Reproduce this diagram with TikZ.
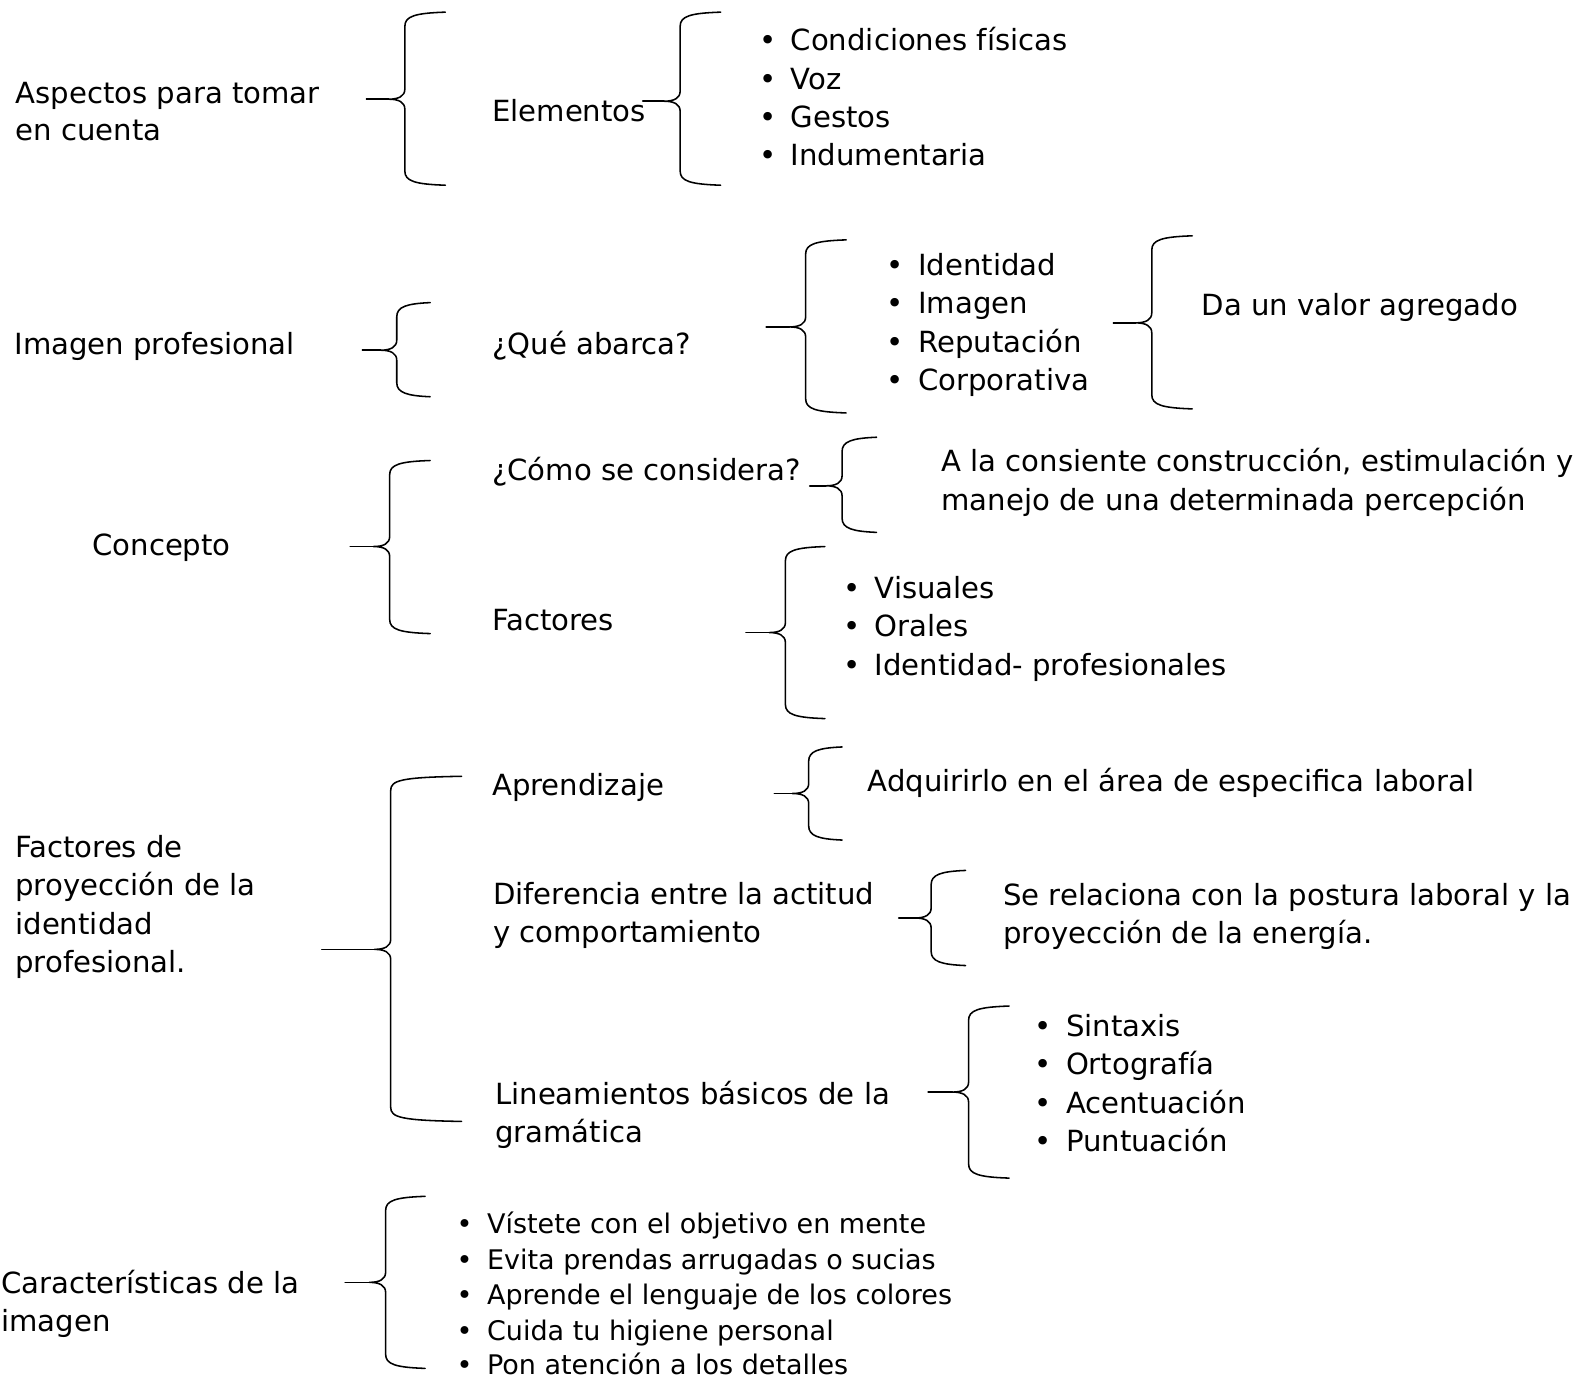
\documentclass[tikz,border=0pt]{standalone}
\usepackage{fontspec}
\setmainfont{DejaVu Sans}
\newcommand\bul[1]{\makebox[23.25pt][l]{•}#1}
\newcommand\sbul[1]{\makebox[22.5pt][l]{•}#1}
% tip x, vertical x, right x, top y, bottom y, tip y
\newcommand\BraceShape[6]{%
 \draw[brc] (#3,#4) .. controls (#2+10,#4+1) and (#2,#4+4) .. (#2,#4+14) -- (#2,#6-10)
   .. controls (#2,#6-3) and (#2-6,#6) .. (#2-16,#6)
   .. controls (#2-6,#6) and (#2,#6+3) .. (#2,#6+10) -- (#2,#5-14)
   .. controls (#2,#5-4) and (#2+10,#5-1) .. (#3,#5);
 \draw[brc] (#2-16,#6) -- (#1,#6);}
\begin{document}
\begin{tikzpicture}[x=0.75pt,y=-0.75pt,
  txt/.style={anchor=base west,inner sep=0pt,font=\fontsize{21.6}{28.5}\selectfont},
  sml/.style={anchor=base west,inner sep=0pt,font=\fontsize{20}{26}\selectfont},
  brc/.style={draw=black,line width=1.15pt,line cap=round,line join=round}]
\useasboundingbox (0,0) rectangle (1568,1366);

% ---------- group 1
\node[txt] (asp1) at (15,102) {Aspectos para tomar};
\node[txt] (asp2) at (15,139) {en cuenta};
\node[txt] (elem) at (486,120) {Elementos};
\node[txt] (e1) at (750,50) {\bul{Condiciones físicas}};
\node[txt] (e2) at (750,88) {\bul{Voz}};
\node[txt] (e3) at (750,126) {\bul{Gestos}};
\node[txt] (e4) at (750,164) {\bul{Indumentaria}};
\BraceShape{362}{400}{440}{12}{183}{98}
\BraceShape{635}{672}{712}{12}{183}{100}

% ---------- group 2
\node[txt] (imp) at (14,350) {Imagen profesional};
\node[txt] (que) at (486,350) {¿Qué abarca?};
\node[txt] (q1) at (876,272) {\bul{Identidad}};
\node[txt] (q2) at (876,310) {\bul{Imagen}};
\node[txt] (q3) at (876,348) {\bul{Reputación}};
\node[txt] (q4) at (876,386) {\bul{Corporativa}};
\node[txt] (val) at (1187,312) {Da un valor agregado};
\BraceShape{358}{392}{425}{299}{392}{346}
\BraceShape{757}{796}{836}{237}{408}{323}
\BraceShape{1100}{1138}{1178}{233}{404}{319}

% ---------- group 3
\node[txt] (con) at (91,549) {Concepto};
\node[txt] (como) at (486,475) {¿Cómo se considera?};
\node[txt] (alc1) at (930,466) {A la consiente construcción, estimulación y};
\node[txt] (alc2) at (930,504) {manejo de una determinada percepción};
\node[txt] (fac) at (486,623) {Factores};
\node[txt] (f1) at (833,591) {\bul{Visuales}};
\node[txt] (f2) at (833,629) {\bul{Orales}};
\node[txt] (f3) at (833,667) {\bul{Identidad- profesionales}};
\BraceShape{346}{385}{425}{455}{626}{540}
\BraceShape{800}{832}{866}{432}{526}{480}
\BraceShape{737}{776}{815}{540}{710}{625}

% ---------- group 4
\node[txt] (fp1) at (15,847) {Factores de};
\node[txt] (fp2) at (15,885) {proyección de la};
\node[txt] (fp3) at (15,923) {identidad};
\node[txt] (fp4) at (15,961) {profesional.};
\node[txt] (apr) at (486,786) {Aprendizaje};
\node[txt] (adq) at (857,782) {Adquirirlo en el área de especifica laboral};
\node[txt] (dif1) at (487,894) {Diferencia entre la actitud};
\node[txt] (dif2) at (487,931) {y comportamiento};
\node[txt] (ser1) at (991,895) {Se relaciona con la postura laboral y la};
\node[txt] (ser2) at (991,932) {proyección de la energía.};
\node[txt] (lin1) at (489,1091) {Lineamientos básicos de la};
\node[txt] (lin2) at (489,1129) {gramática};
\node[txt] (g1) at (1022,1024) {\bul{Sintaxis}};
\node[txt] (g2) at (1022,1062) {\bul{Ortografía}};
\node[txt] (g3) at (1022,1100) {\bul{Acentuación}};
\node[txt] (g4) at (1022,1138) {\bul{Puntuación}};
\BraceShape{318}{386}{456}{767}{1108}{938}
\BraceShape{765}{799}{832}{738}{830}{784}
\BraceShape{888}{920}{954}{860}{954}{907}
\BraceShape{917}{957}{997}{994}{1164}{1079}

% ---------- group 5
\node[txt] (car1) at (1,1278) {Características de la};
\node[txt] (car2) at (1,1316) {imagen};
\node[sml] (c1) at (451,1219) {\sbul{Vístete con el objetivo en mente}};
\node[sml] (c2) at (451,1254) {\sbul{Evita prendas arrugadas o sucias}};
\node[sml] (c3) at (451,1289) {\sbul{Aprende el lenguaje de los colores}};
\node[sml] (c4) at (451,1324) {\sbul{Cuida tu higiene personal}};
\node[sml] (c5) at (451,1358) {\sbul{Pon atención a los detalles}};
\BraceShape{341}{381}{420}{1182}{1352}{1267}
\end{tikzpicture}
\end{document}
